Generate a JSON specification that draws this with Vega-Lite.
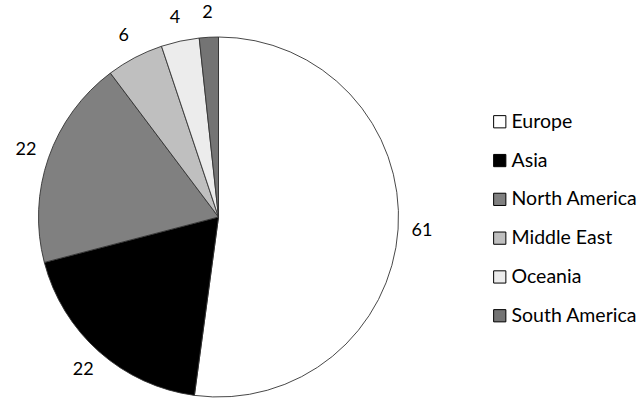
{
  "$schema": "https://vega.github.io/schema/vega-lite/v6.json",
  "width": 437,
  "height": 434,
  "autosize": {"type": "none"},
  "padding": {"left": 0, "top": 0, "right": 200, "bottom": 0},
  "background": "white",
  "data": {
    "values": [
      {"region": "Europe", "value": 61, "rank": 1},
      {"region": "Asia", "value": 22, "rank": 2},
      {"region": "North America", "value": 22, "rank": 3},
      {"region": "Middle East", "value": 6, "rank": 4},
      {"region": "Oceania", "value": 4, "rank": 5},
      {"region": "South America", "value": 2, "rank": 6}
    ]
  },
  "encoding": {
    "theta": {"field": "value", "type": "quantitative", "stack": true},
    "order": {"field": "rank", "type": "quantitative"}
  },
  "layer": [
    {
      "mark": {"type": "arc", "outerRadius": 180, "stroke": "#333333", "strokeWidth": 0.9},
      "encoding": {
        "color": {
          "field": "region",
          "type": "nominal",
          "scale": {
            "domain": ["Europe", "Asia", "North America", "Middle East", "Oceania", "South America"],
            "range": ["#ffffff", "#000000", "#808080", "#bfbfbf", "#ececec", "#747474"]
          },
          "legend": {
            "title": null,
            "orient": "none",
            "legendX": 490,
            "legendY": 112,
            "symbolType": "square",
            "symbolSize": 150,
            "symbolStrokeColor": "#000000",
            "symbolStrokeWidth": 1,
            "labelFont": "Lato",
            "labelFontSize": 19.5,
            "labelColor": "#000000",
            "labelOffset": 2,
            "labelLimit": 200,
            "rowPadding": 17.8
          }
        }
      }
    },
    {
      "mark": {"type": "text", "radius": 204, "font": "Lato", "fontSize": 18, "color": "#000000"},
      "encoding": {
        "text": {"field": "value", "type": "quantitative"}
      }
    }
  ]
}
